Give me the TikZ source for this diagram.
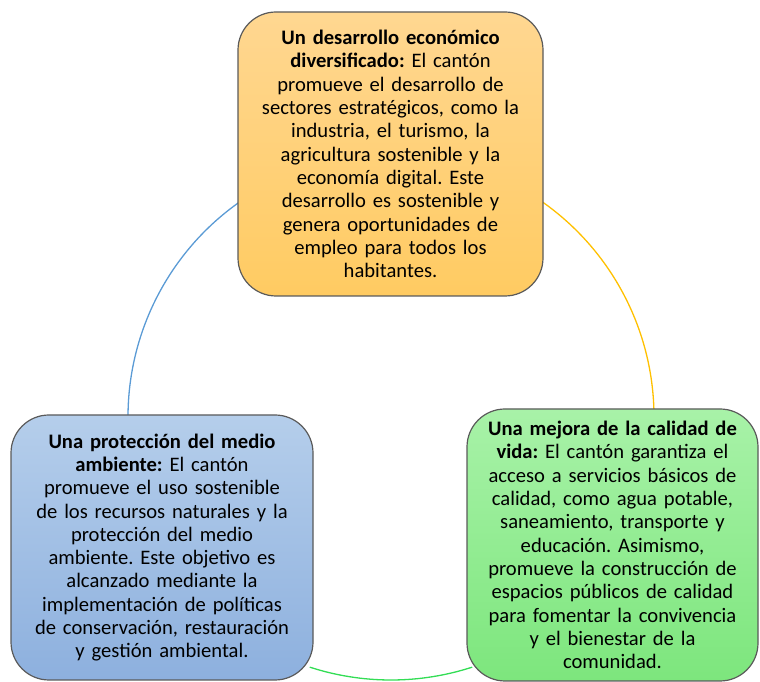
\documentclass[tikz,border=0pt]{standalone}
\usepackage{fontspec}
\setmainfont{Carlito}
\frenchspacing
\usetikzlibrary{backgrounds,calc}
\definecolor{orTop}{HTML}{FFD791}
\definecolor{orBot}{HTML}{FFCB62}
\definecolor{blTop}{HTML}{B5CEEB}
\definecolor{blBot}{HTML}{8DB0DE}
\definecolor{grTop}{HTML}{A8F2A8}
\definecolor{grBot}{HTML}{7DE67D}
\definecolor{edge}{HTML}{5A5A5A}
\definecolor{arcBlue}{HTML}{5B9BD5}
\definecolor{arcGold}{HTML}{FFC000}
\definecolor{arcGreen}{HTML}{33DD55}
\tikzset{
  cyclebox/.style={draw=edge, line width=1.2pt, rounded corners=38pt, align=center,
    inner sep=0pt, font=\fontsize{20.6pt}{23.3pt}\selectfont},
  cyclearc/.style={line width=1.3pt}
}
\begin{document}
\begin{tikzpicture}[x=1pt,y=1pt]
\useasboundingbox (0,0) rectangle (760,682);
\node[cyclebox, top color=orTop, bottom color=orBot, minimum width=305pt, minimum height=284pt, text width=300pt]
  (top) at (390.5,528) {\textbf{Un desarrollo económico}\\ \textbf{diversificado:} El cantón\\ promueve el desarrollo de\\ sectores estratégicos, como la\\ industria, el turismo, la\\ agricultura sostenible y la\\ economía digital. Este\\ desarrollo es sostenible y\\ genera oportunidades de\\ empleo para todos los\\ habitantes.};
\node[cyclebox, top color=blTop, bottom color=blBot, minimum width=302pt, minimum height=265pt, text width=296pt]
  (left) at (162,134.5) {\textbf{Una protección del medio}\\ \textbf{ambiente:} El cantón\\ promueve el uso sostenible\\ de los recursos naturales y la\\ protección del medio\\ ambiente. Este objetivo es\\ alcanzado mediante la\\ implementación de políticas\\ de conservación, restauración\\ y gestión ambiental.};
\node[cyclebox, top color=grTop, bottom color=grBot, minimum width=291pt, minimum height=272pt, text width=286pt]
  (right) at (612.5,137) {\textbf{Una mejora de la calidad de}\\ \textbf{vida:} El cantón garantiza el\\ acceso a servicios básicos de\\ calidad, como agua potable,\\ saneamiento, transporte y\\ educación. Asimismo,\\ promueve la construcción de\\ espacios públicos de calidad\\ para fomentar la convivencia\\ y el bienestar de la\\ comunidad.};
\coordinate (c) at (391,265);
\begin{pgfonlayer}{background}
\draw[cyclearc, arcBlue] ($(c)+(124:263)$) arc[start angle=124, end angle=180, radius=263pt];
\draw[cyclearc, arcGold] ($(c)+(56:263)$) arc[start angle=56, end angle=1, radius=263pt];
\draw[cyclearc, arcGreen] ($(c)+(252:263)$) arc[start angle=252, end angle=288, radius=263pt];
\end{pgfonlayer}
\end{tikzpicture}
\end{document}
